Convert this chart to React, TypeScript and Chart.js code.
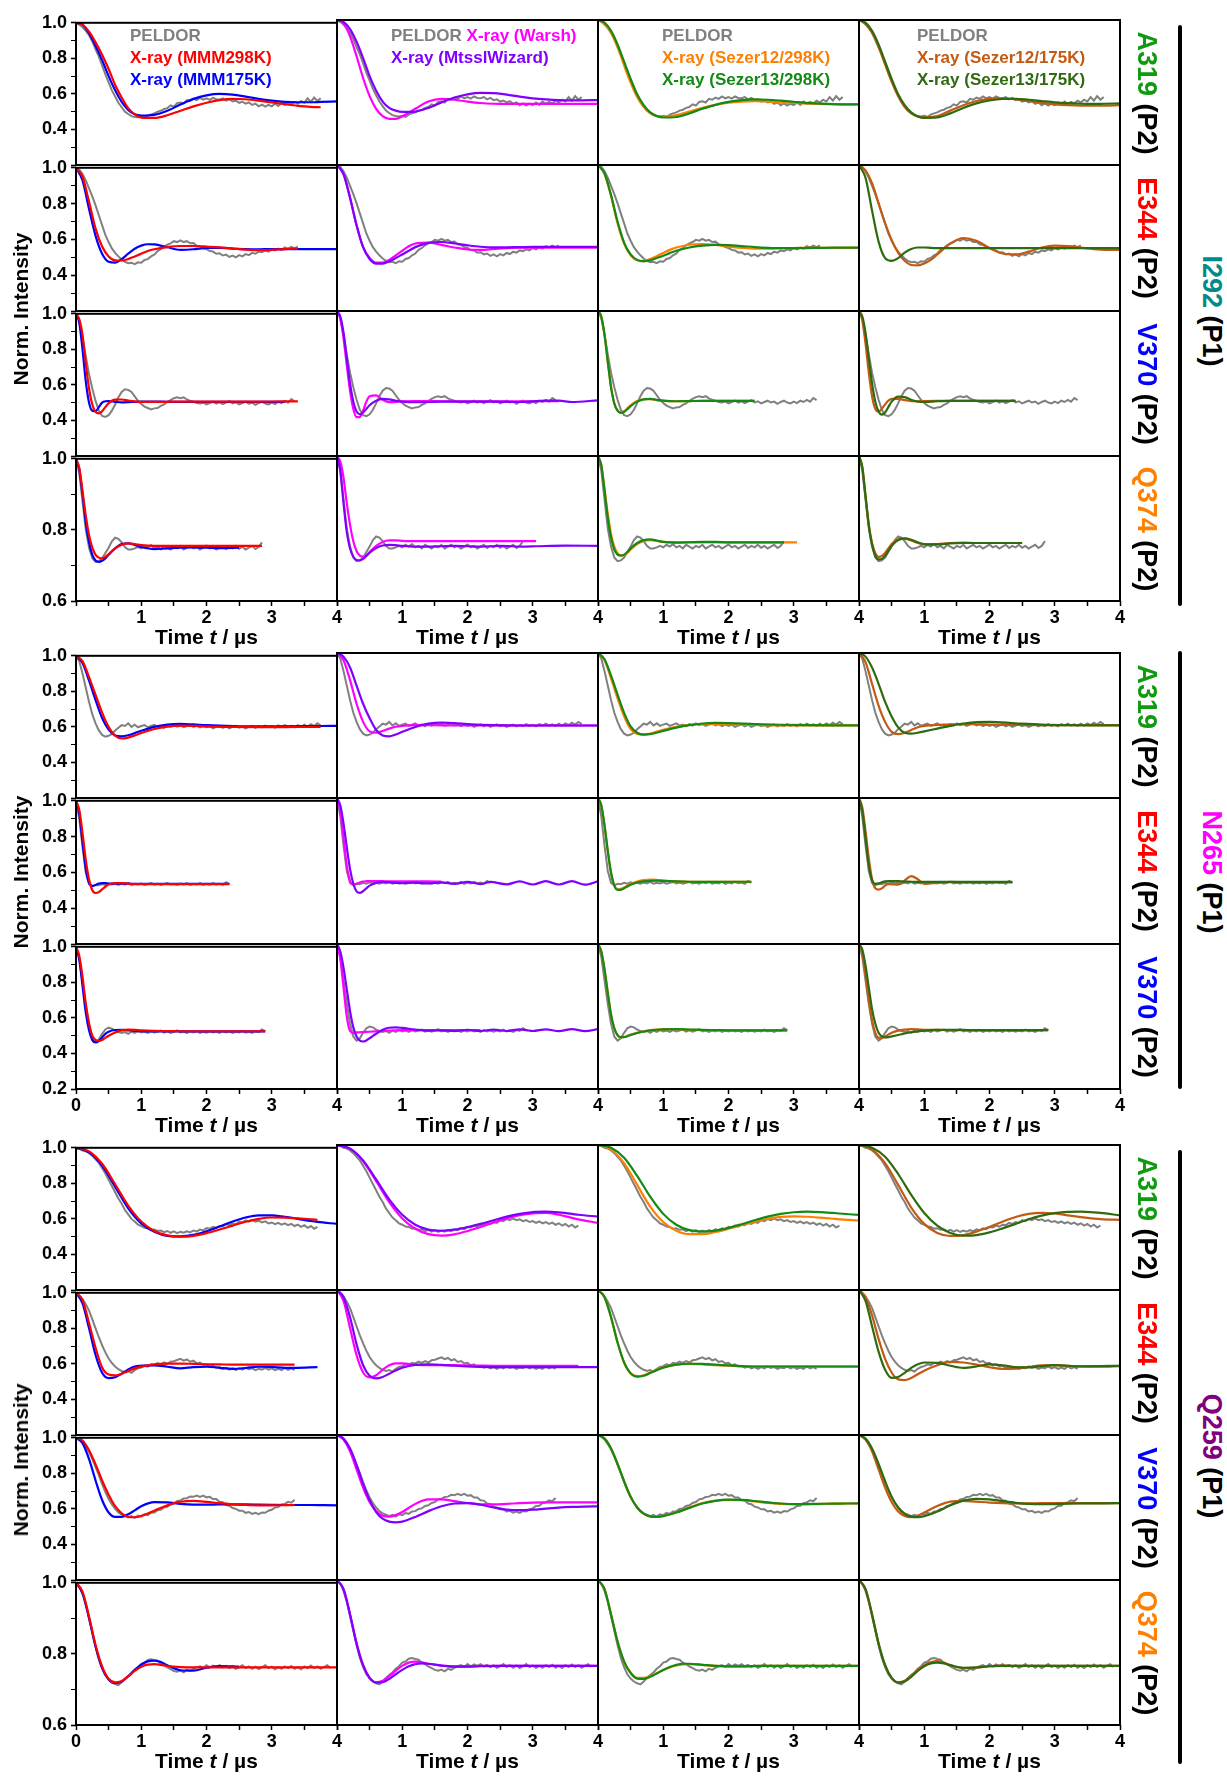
import React, { useEffect, useRef } from "react";
import { Chart, registerables } from "chart.js";

Chart.register(...registerables);

const FONT = "'Liberation Sans', Arial, Helvetica, sans-serif";
Chart.defaults.font.family = FONT;

// ---------------- axis / tick settings ----------------
const TIME_MAX = 4;
const TIME_STEP = 0.5;
const Y_STEP = 0.1;
const PELDOR_DT = 0.05; // sampling step of the PELDOR traces (µs)

// ---------------- colours ----------------
const C_PELDOR = "#808080";
const C_MMM298 = "#ff0000";
const C_MMM175 = "#0000ff";
const C_WARSH = "#ff00ff";
const C_WIZARD = "#8000ff";
const C_S12RT = "#ff8000";
const C_S13RT = "#138a13";
const C_S12LT = "#c45a12";
const C_S13LT = "#2e6b0e";

// ================= I292 (P1) / A319 (P2) =================
const t_I292_A319 = [0, 0.1, 0.2, 0.3, 0.4, 0.5, 0.6, 0.7, 0.8, 0.9, 1.0, 1.2, 1.4, 1.6, 1.8, 2.0, 2.2, 2.4, 2.6, 2.8, 3.0, 3.2, 3.4, 3.6, 3.75, 4.0];
const peldor_I292_A319 = [1.0, .99, .975, .955, .93, .895, .85, .81, .76, .71, .665, .62, .585, .55, .525, .50, .487, .475, .47, .468, .472, .465, .478, .485, .49, .50, .505, .515, .52, .535, .528, .548, .552, .545, .565, .56, .572, .565, .578, .568, .575, .566, .578, .57, .568, .575, .562, .57, .558, .562, .55, .556, .545, .552, .538, .545, .53, .54, .528, .538, .53, .545, .532, .55, .538, .548, .54, .555, .545, .56, .55, .575, .555, .58, .56, .575];
const mmm298_I292_A319 = [1, .99, .95, .89, .82, .74, .65, .58, .52, .485, .467, .465, .48, .505, .53, .55, .565, .572, .57, .562, .552, .542, .533, .527, .525];
const mmm175_I292_A319 = [1, .99, .94, .87, .79, .70, .62, .555, .51, .485, .478, .482, .505, .54, .572, .592, .6, .596, .585, .572, .562, .555, .553, .553, .555, .558];
const warsh_I292_A319 = [1, .98, .91, .8, .68, .58, .51, .47, .455, .455, .468, .51, .55, .565, .56, .55, .542, .538, .537, .537, .537, .537, .537, .537, .537, .537];
const wizard_I292_A319 = [1, .99, .95, .88, .79, .69, .61, .55, .515, .5, .493, .495, .515, .545, .572, .59, .598, .597, .588, .577, .568, .562, .558, .557, .557, .558];
const sz12rt_I292_A319 = [1, .98, .93, .85, .75, .655, .575, .52, .487, .47, .467, .475, .495, .515, .532, .544, .55, .552, .55, .546, .542, .539, .537, .536, .535, .535];
const sz13rt_I292_A319 = [1, .985, .94, .865, .77, .675, .59, .53, .49, .47, .462, .465, .485, .51, .532, .548, .558, .562, .56, .555, .549, .543, .539, .536, .535, .535];
const sz12lt_I292_A319 = [1, .98, .93, .85, .755, .66, .58, .52, .485, .468, .462, .47, .5, .53, .553, .565, .568, .563, .553, .543, .535, .53, .528, .528, .528, .53];
const sz13lt_I292_A319 = [1, .985, .94, .865, .77, .675, .59, .53, .49, .468, .46, .462, .485, .515, .54, .556, .564, .565, .56, .553, .546, .541, .538, .537, .538, .54];

// ================= I292 (P1) / E344 (P2) =================
const t_I292_E344 = [0, 0.1, 0.2, 0.3, 0.4, 0.5, 0.6, 0.7, 0.8, 0.9, 1.0, 1.1, 1.2, 1.4, 1.6, 1.8, 2.0, 2.2, 2.4, 2.6, 2.8, 3.0, 3.2, 3.4, 3.6, 3.8, 4.0];
const peldor_I292_E344 = [1.0, .99, .965, .93, .885, .84, .79, .735, .68, .625, .585, .55, .525, .505, .488, .475, .467, .47, .462, .472, .47, .485, .49, .505, .515, .535, .545, .56, .57, .578, .59, .585, .595, .585, .59, .578, .58, .565, .562, .55, .545, .535, .532, .52, .522, .51, .515, .502, .51, .5, .512, .505, .518, .512, .525, .52, .532, .528, .538, .532, .545, .538, .548, .542, .555, .548, .558, .55, .56];
const mmm298_I292_E344 = [1, .95, .81, .66, .56, .505, .483, .482, .49, .505, .52, .535, .545, .557, .563, .563, .56, .555, .549, .543, .54, .542, .546, .549];
const mmm175_I292_E344 = [1, .93, .77, .62, .52, .475, .47, .49, .52, .548, .565, .573, .572, .556, .542, .545, .552, .553, .549, .546, .545, .546, .546, .546, .546, .546, .546];
const warsh_I292_E344 = [1, .95, .82, .67, .55, .49, .465, .465, .48, .505, .53, .555, .57, .575, .562, .548, .537, .535, .54, .545, .547, .547, .547, .547, .547, .547, .547];
const wizard_I292_E344 = [1, .95, .82, .67, .55, .485, .46, .46, .472, .49, .51, .53, .55, .573, .578, .57, .56, .552, .549, .549, .55, .551, .551, .551, .551, .551, .551];
const sz12rt_I292_E344 = [1, .95, .83, .68, .57, .505, .478, .475, .485, .5, .518, .535, .548, .563, .567, .562, .553, .546, .542, .542, .544, .545, .546, .546, .546, .546, .546];
const sz13rt_I292_E344 = [1, .955, .835, .69, .575, .51, .48, .472, .478, .49, .503, .517, .53, .548, .558, .562, .561, .556, .55, .546, .544, .544, .545, .546, .547, .547, .547];
const sz12lt_I292_E344 = [1, .97, .9, .79, .68, .59, .52, .475, .452, .45, .46, .48, .51, .57, .6, .585, .545, .515, .51, .525, .548, .558, .555, .547, .539, .535, .535];
const sz13lt_I292_E344 = [1, .93, .75, .58, .49, .475, .49, .52, .54, .548, .548, .546, .545, .545, .545, .545, .545, .545, .545, .545, .545, .545, .545, .545, .545, .545, .545];

// ================= I292 (P1) / V370 (P2) =================
const t_I292_V370 = [0, .05, .1, .15, .2, .25, .3, .35, .4, .45, .5, .6, .7, .8, .9, 1.0, 1.2, 1.4, 1.6, 1.8, 2.0, 2.4, 2.8, 3.2, 3.4, 3.6, 4.0];
const peldor_I292_V370 = [1, .96, .87, .76, .66, .58, .51, .455, .425, .42, .43, .455, .49, .53, .56, .575, .572, .56, .535, .51, .492, .478, .47, .462, .468, .47, .482, .49, .505, .515, .525, .53, .525, .53, .518, .51, .505, .498, .495, .5, .49, .498, .505, .495, .502, .492, .5, .508, .496, .502, .49, .498, .505, .495, .5, .488, .498, .505, .495, .49, .5, .492, .505, .498, .51, .5, .52, .508];
const mmm298_I292_V370 = [1, .97, .88, .72, .58, .49, .448, .44, .452, .475, .497, .517, .518, .512, .507, .504, .504, .505, .506, .506, .506, .506, .506, .507, .507];
const mmm175_I292_V370 = [1, .95, .8, .62, .5, .455, .452, .475, .5, .508, .509, .505, .502, .503, .505, .506, .506, .505, .505, .505, .505, .505, .505, .505];
const warsh_I292_V370 = [1, .96, .85, .7, .56, .46, .415, .415, .45, .5, .53, .535, .51, .497, .498, .502, .503, .503, .502, .502, .502, .502, .502, .502, .502];
const wizard_I292_V370 = [1, .97, .88, .74, .6, .5, .445, .43, .44, .46, .48, .505, .515, .512, .505, .5, .497, .498, .5, .5, .5, .5, .498, .505, .505, .498, .507];
const sz12rt_I292_V370 = [1, .97, .87, .72, .58, .49, .45, .44, .447, .463, .48, .503, .513, .513, .508, .504, .502, .503, .504, .504, .504, .504];
const sz13rt_I292_V370 = [1, .97, .87, .72, .58, .49, .45, .438, .443, .458, .475, .5, .512, .515, .51, .505, .502, .503, .504, .504, .504, .504];
const sz12lt_I292_V370 = [1, .95, .82, .66, .53, .46, .445, .46, .485, .505, .515, .515, .508, .503, .502, .503, .504, .504, .504, .504, .504, .504];
const sz13lt_I292_V370 = [1, .97, .88, .74, .6, .5, .445, .428, .44, .47, .5, .528, .525, .51, .5, .498, .502, .504, .504, .504, .504, .504];

// ================= I292 (P1) / Q374 (P2) =================
const t_I292_Q374 = [0, .05, .1, .15, .2, .25, .3, .35, .4, .45, .5, .6, .7, .8, .9, 1.0, 1.2, 1.4, 1.6, 1.8, 2.0, 2.2, 2.5, 2.85, 3.05, 3.5, 4.0];
const peldor_I292_Q374 = [1, .96, .88, .8, .75, .72, .71, .712, .72, .735, .75, .768, .778, .775, .765, .752, .745, .745, .748, .752, .748, .755, .75, .757, .748, .752, .745, .755, .75, .745, .752, .748, .755, .745, .75, .755, .748, .752, .745, .75, .756, .748, .752, .745, .75, .755, .746, .752, .748, .755, .747, .752, .745, .75, .755, .746, .752, .765];
const mmm298_I292_Q374 = [1, .975, .91, .84, .785, .75, .73, .722, .72, .724, .732, .748, .758, .762, .76, .757, .755, .755, .755, .755, .755, .755, .755, .755];
const mmm175_I292_Q374 = [1, .97, .9, .82, .765, .73, .714, .71, .713, .72, .73, .748, .76, .762, .758, .752, .746, .748, .75, .751, .75, .749, .75];
const warsh_I292_Q374 = [1, .985, .94, .87, .81, .765, .738, .725, .722, .726, .735, .752, .763, .767, .767, .766, .765, .765, .765, .765, .765, .765, .765, .765, .765];
const wizard_I292_Q374 = [1, .96, .87, .79, .745, .722, .713, .712, .716, .724, .733, .746, .753, .755, .754, .752, .75, .75, .751, .752, .751, .75, .752, .75, .751, .753, .752];
const sz12rt_I292_Q374 = [1, .975, .91, .84, .785, .75, .732, .726, .727, .733, .742, .757, .766, .768, .766, .763, .762, .762, .762, .762, .762, .762, .762, .762, .762];
const sz13rt_I292_Q374 = [1, .975, .905, .83, .775, .742, .728, .725, .728, .735, .745, .76, .768, .77, .767, .763, .761, .762, .763, .763, .762, .762, .762, .762];
const sz12lt_I292_Q374 = [1, .97, .89, .81, .76, .732, .722, .724, .733, .745, .757, .77, .772, .767, .76, .756, .757, .76, .761, .76, .76, .76, .76];
const sz13lt_I292_Q374 = [1, .97, .89, .81, .755, .725, .715, .716, .725, .738, .752, .768, .773, .769, .762, .757, .756, .759, .76, .76, .76, .76, .76];

// ================= N265 (P1) / A319 (P2) =================
const t_N265_A319 = [0, .1, .2, .3, .4, .5, .6, .7, .8, .9, 1.0, 1.2, 1.4, 1.6, 1.8, 2.0, 2.4, 2.8, 3.2, 3.6, 3.75, 4.0];
const peldor_N265_A319 = [1, .97, .9, .82, .74, .67, .62, .58, .555, .545, .55, .56, .58, .595, .61, .605, .62, .6, .612, .598, .605, .61, .598, .605, .612, .6, .605, .595, .608, .6, .612, .602, .608, .598, .605, .612, .6, .607, .597, .605, .598, .604, .592, .6, .606, .595, .603, .592, .6, .606, .596, .602, .592, .6, .605, .595, .603, .597, .607, .598, .604, .595, .608, .6, .61, .6, .606, .598, .61, .6, .612, .602, .615, .605, .62, .608];
const mmm298_N265_A319 = [1, .97, .88, .78, .68, .6, .55, .535, .54, .552, .566, .588, .602, .607, .606, .603, .6, .599, .599, .6, .6];
const mmm175_N265_A319 = [1, .96, .86, .75, .65, .585, .552, .547, .553, .565, .578, .6, .613, .617, .614, .61, .605, .603, .603, .604, .605, .606];
const warsh_N265_A319 = [1, .96, .85, .72, .62, .568, .56, .57, .583, .593, .598, .602, .602, .601, .6, .6, .6, .6, .6, .6, .6, .6];
const wizard_N265_A319 = [1, .98, .92, .82, .72, .64, .575, .545, .54, .55, .565, .592, .61, .616, .613, .608, .602, .6, .6, .6, .6, .6];
const sz12rt_N265_A319 = [1, .96, .86, .75, .65, .58, .553, .55, .556, .566, .576, .592, .603, .608, .608, .606, .603, .601, .601, .601, .601, .601];
const sz13rt_N265_A319 = [1, .965, .875, .77, .67, .595, .56, .55, .552, .56, .57, .588, .602, .611, .614, .613, .608, .604, .602, .601, .601, .601];
const sz12lt_N265_A319 = [1, .95, .83, .71, .62, .565, .552, .56, .575, .59, .598, .603, .606, .608, .607, .605, .603, .602, .602, .602, .602, .602];
const sz13lt_N265_A319 = [1, .98, .92, .83, .73, .65, .59, .56, .555, .56, .568, .583, .598, .611, .619, .62, .612, .605, .602, .601, .601, .601];

// ================= N265 (P1) / E344 (P2) =================
const t_N265_E344 = [0, .05, .1, .15, .2, .25, .3, .35, .4, .45, .5, .6, .7, .8, .9, 1.0, 1.2, 1.4, 1.6, 1.8, 2.0, 2.2, 2.35, 2.6, 2.8, 3.0, 3.2, 3.4, 3.6, 3.8, 4.0];
const peldor_N265_E344 = [1, .9, .74, .6, .535, .522, .53, .528, .535, .53, .538, .532, .536, .53, .537, .532, .54, .53, .536, .532, .538, .53, .535, .54, .532, .537, .53, .536, .54, .532, .535, .53, .538, .533, .54, .53, .536, .532, .54, .53, .537, .532, .54, .533, .537, .53, .545, .535];
const mmm298_N265_E344 = [1, .95, .82, .67, .56, .5, .485, .49, .505, .52, .532, .54, .54, .537, .535, .535, .535, .535, .535, .535, .535, .535, .535];
const mmm175_N265_E344 = [1, .93, .77, .62, .54, .525, .53, .538, .54, .54, .538, .537, .537, .537, .536, .536, .536, .536, .536, .536, .536, .536, .536];
const warsh_N265_E344 = [1, .93, .78, .63, .545, .527, .53, .537, .542, .544, .545, .545, .544, .543, .543, .543, .543, .543, .542];
const wizard_N265_E344 = [1, .96, .86, .73, .61, .53, .488, .48, .49, .505, .52, .535, .54, .538, .535, .533, .536, .532, .538, .53, .54, .528, .54, .527, .543, .526, .544, .526, .544, .525, .543];
const sz12rt_N265_E344 = [1, .96, .85, .71, .59, .52, .5, .502, .51, .52, .53, .542, .55, .553, .552, .548, .543, .541, .541, .541, .541, .541, .541];
const sz13rt_N265_E344 = [1, .96, .85, .71, .59, .52, .497, .497, .505, .515, .525, .537, .543, .546, .547, .546, .543, .541, .54, .54, .541, .541, .541];
const sz12lt_N265_E344 = [1, .95, .82, .67, .555, .505, .498, .505, .52, .528, .527, .525, .548, .572, .555, .53, .535, .54, .538, .536, .537, .538, .538];
const sz13lt_N265_E344 = [1, .93, .78, .63, .55, .53, .532, .538, .543, .545, .545, .544, .542, .541, .54, .54, .54, .54, .54, .54, .54, .54, .54];

// ================= N265 (P1) / V370 (P2) =================
const t_N265_V370 = [0, .05, .1, .15, .2, .25, .3, .35, .4, .45, .5, .6, .7, .8, .9, 1.0, 1.2, 1.4, 1.6, 1.8, 2.0, 2.2, 2.4, 2.6, 2.8, 2.9, 3.0, 3.2, 3.4, 3.6, 3.8, 4.0];
const peldor_N265_V370 = [1, .93, .8, .67, .56, .49, .467, .48, .51, .535, .545, .54, .528, .52, .515, .52, .51, .522, .515, .525, .518, .522, .515, .525, .518, .522, .528, .517, .524, .516, .522, .53, .518, .522, .515, .524, .518, .526, .515, .522, .517, .525, .518, .522, .515, .525, .518, .523, .516, .522, .518, .527, .517, .522, .515, .525, .52, .535, .525];
const mmm298_N265_V370 = [1, .95, .83, .68, .57, .5, .475, .47, .475, .488, .5, .518, .53, .534, .533, .53, .527, .526, .525, .525, .525, .525, .525, .525, .525, .525];
const mmm175_N265_V370 = [1, .93, .78, .63, .53, .475, .462, .47, .49, .51, .522, .532, .533, .53, .527, .525, .524, .524, .524, .524, .524, .524, .524, .524, .524, .524];
const warsh_N265_V370 = [1, .92, .76, .6, .52, .51, .512, .513, .514, .515, .516, .518, .52, .522, .524, .525, .525, .525, .525, .525, .525, .525];
const wizard_N265_V370 = [1, .96, .87, .75, .63, .54, .49, .467, .462, .468, .48, .505, .527, .538, .54, .537, .528, .522, .524, .52, .527, .52, .528, .52, .529, .525, .52, .529, .519, .53, .519, .53];
const sz12rt_N265_V370 = [1, .96, .86, .73, .61, .535, .495, .485, .487, .493, .5, .51, .518, .524, .528, .53, .53, .527, .525, .524, .524, .524, .524, .524, .524, .524];
const sz13rt_N265_V370 = [1, .96, .86, .73, .61, .535, .497, .486, .486, .491, .498, .509, .517, .523, .527, .529, .53, .528, .526, .525, .524, .524, .524, .524, .524, .524];
const sz12lt_N265_V370 = [1, .95, .83, .69, .58, .51, .483, .482, .49, .5, .51, .522, .528, .53, .529, .527, .526, .525, .525, .525, .525, .525, .525, .525, .525, .525];
const sz13lt_N265_V370 = [1, .97, .88, .76, .64, .56, .51, .49, .485, .486, .49, .498, .506, .513, .518, .522, .526, .527, .526, .525, .525, .525, .525, .525, .525, .525];

// ================= Q259 (P1) / A319 (P2) =================
const t_Q259_A319 = [0, .2, .4, .6, .8, 1.0, 1.2, 1.4, 1.6, 1.8, 2.0, 2.2, 2.4, 2.6, 2.8, 3.0, 3.2, 3.4, 3.6, 3.7, 4.0];
const peldor_Q259_A319 = [1, .995, .985, .98, .97, .955, .935, .915, .885, .855, .82, .785, .75, .715, .685, .65, .625, .6, .585, .568, .56, .55, .548, .538, .54, .532, .535, .525, .532, .522, .53, .52, .528, .522, .53, .524, .535, .53, .54, .535, .548, .545, .555, .55, .56, .558, .57, .565, .575, .57, .585, .58, .592, .585, .595, .585, .59, .58, .586, .575, .58, .57, .578, .568, .575, .565, .572, .56, .568, .555, .565, .55, .56, .545, .555];
const mmm298_Q259_A319 = [1, .98, .91, .795, .675, .585, .532, .507, .5, .505, .52, .54, .562, .584, .6, .608, .607, .603, .598, .595];
const mmm175_Q259_A319 = [1, .975, .9, .78, .66, .575, .528, .505, .502, .51, .53, .557, .585, .608, .62, .62, .611, .6, .588, .583, .572];
const warsh_Q259_A319 = [1, .98, .91, .8, .685, .595, .538, .508, .5, .507, .525, .548, .572, .595, .613, .623, .625, .615, .598, .59, .57];
const wizard_Q259_A319 = [1, .98, .915, .81, .7, .615, .56, .533, .527, .533, .547, .565, .585, .605, .62, .63, .632, .628, .62, .615, .605];
const sz12rt_Q259_A319 = [1, .975, .9, .78, .66, .575, .527, .508, .508, .52, .538, .558, .577, .593, .603, .606, .604, .599, .593, .59, .583];
const sz13rt_Q259_A319 = [1, .985, .93, .83, .715, .62, .56, .53, .522, .528, .543, .563, .585, .605, .62, .629, .632, .63, .625, .622, .614];
const sz12lt_Q259_A319 = [1, .975, .9, .78, .655, .565, .515, .498, .503, .522, .548, .577, .603, .62, .626, .622, .612, .602, .594, .591, .587];
const sz13lt_Q259_A319 = [1, .985, .935, .84, .725, .625, .555, .515, .5, .503, .518, .54, .565, .59, .61, .624, .631, .632, .628, .625, .612];

// ================= Q259 (P1) / E344 (P2) =================
const t_Q259_E344 = [0, .1, .2, .3, .4, .5, .6, .7, .8, .9, 1.0, 1.2, 1.4, 1.6, 1.8, 2.0, 2.2, 2.4, 2.6, 2.8, 3.0, 3.2, 3.35, 3.7, 4.0];
const peldor_Q259_E344 = [1, .985, .965, .935, .9, .85, .8, .75, .705, .665, .63, .605, .585, .57, .56, .553, .558, .55, .565, .575, .58, .59, .585, .598, .595, .605, .598, .608, .6, .612, .615, .622, .628, .618, .625, .612, .618, .603, .608, .595, .598, .585, .59, .578, .582, .572, .578, .568, .575, .565, .575, .568, .578, .57, .575, .565, .572, .568, .578, .568, .575, .565, .572, .565, .578, .567, .575, .565];
const mmm298_Q259_E344 = [1, .96, .83, .69, .58, .54, .535, .545, .56, .575, .585, .597, .602, .602, .6, .598, .597, .596, .596, .596, .596, .596, .596];
const mmm175_Q259_E344 = [1, .94, .8, .65, .55, .52, .525, .545, .568, .585, .59, .592, .584, .575, .582, .585, .578, .572, .577, .584, .583, .578, .578, .582];
const warsh_Q259_E344 = [1, .94, .79, .64, .545, .518, .53, .56, .585, .595, .595, .588, .585, .585, .585, .584, .583, .582, .582, .582, .582, .582, .582, .582];
const wizard_Q259_E344 = [1, .96, .85, .7, .585, .527, .512, .52, .538, .556, .571, .587, .59, .587, .582, .578, .576, .575, .575, .575, .575, .575, .575, .575, .575];
const sz12rt_Q259_E344 = [1, .96, .85, .71, .6, .54, .525, .53, .545, .56, .573, .588, .592, .59, .586, .582, .579, .577, .577, .577, .577, .577, .577, .577, .577];
const sz13rt_Q259_E344 = [1, .96, .85, .71, .6, .54, .522, .527, .542, .558, .572, .588, .593, .592, .588, .584, .58, .578, .578, .578, .578, .578, .578, .578, .578];
const sz12lt_Q259_E344 = [1, .96, .86, .73, .62, .545, .507, .503, .515, .535, .555, .585, .603, .6, .588, .574, .565, .566, .575, .584, .585, .582, .579, .577, .58];
const sz13lt_Q259_E344 = [1, .94, .8, .66, .56, .515, .52, .543, .57, .59, .6, .598, .582, .57, .578, .59, .585, .574, .573, .58, .585, .582, .579, .58, .582];

// ================= Q259 (P1) / V370 (P2) =================
const t_Q259_V370 = [0, .1, .2, .3, .4, .5, .6, .7, .8, .9, 1.0, 1.2, 1.4, 1.6, 1.8, 2.0, 2.2, 2.4, 2.6, 2.8, 3.0, 3.2, 3.35, 3.6, 3.8, 4.0];
const peldor_Q259_V370 = [1, .99, .975, .95, .92, .88, .835, .79, .74, .695, .655, .625, .6, .58, .568, .56, .552, .56, .55, .562, .558, .57, .565, .578, .58, .592, .595, .608, .612, .625, .63, .645, .648, .658, .66, .67, .668, .675, .668, .675, .665, .668, .655, .655, .64, .638, .622, .618, .605, .6, .59, .59, .578, .582, .572, .578, .57, .58, .578, .59, .595, .608, .61, .625, .628, .64, .635, .652];
const mmm298_Q259_V370 = [1, .985, .93, .85, .76, .68, .615, .575, .556, .553, .56, .59, .62, .64, .645, .64, .632, .626, .622, .62, .62, .621, .622];
const mmm175_Q259_V370 = [1, .97, .88, .76, .65, .58, .555, .555, .57, .592, .615, .638, .637, .628, .624, .624, .625, .625, .625, .624, .623, .622, .622, .622, .621, .62];
const warsh_Q259_V370 = [1, .975, .91, .81, .71, .63, .58, .555, .55, .558, .575, .62, .645, .645, .635, .625, .618, .617, .62, .624, .627, .628, .628, .628, .628, .628];
const wizard_Q259_V370 = [1, .98, .925, .835, .73, .64, .575, .538, .522, .518, .522, .548, .58, .607, .622, .624, .615, .6, .588, .585, .588, .594, .598, .603, .605, .606];
const sz12rt_Q259_V370 = [1, .98, .925, .84, .745, .66, .6, .565, .55, .548, .553, .574, .6, .624, .638, .642, .64, .633, .625, .62, .618, .618, .619, .621, .622, .622];
const sz13rt_Q259_V370 = [1, .98, .925, .84, .745, .66, .6, .566, .551, .548, .552, .572, .598, .622, .637, .643, .642, .636, .628, .622, .619, .619, .62, .621, .622, .623];
const sz12lt_Q259_V370 = [1, .975, .91, .81, .71, .63, .578, .553, .547, .555, .573, .608, .632, .637, .632, .627, .624, .623, .623, .624, .624, .624, .624, .624, .624, .624];
const sz13lt_Q259_V370 = [1, .98, .925, .84, .745, .66, .6, .565, .55, .547, .552, .578, .612, .638, .648, .645, .635, .626, .62, .618, .619, .621, .622, .623, .623, .624];

// ================= Q259 (P1) / Q374 (P2) =================
const t_Q259_Q374 = [0, .1, .2, .3, .4, .5, .6, .7, .8, .9, 1.0, 1.1, 1.2, 1.3, 1.4, 1.6, 1.8, 2.0, 2.2, 2.5, 2.8, 3.2, 3.6, 4.0];
const peldor_Q259_Q374 = [1, .99, .97, .94, .9, .86, .82, .785, .76, .74, .728, .72, .715, .712, .72, .73, .738, .745, .755, .762, .772, .775, .783, .785, .782, .78, .772, .768, .762, .757, .752, .75, .753, .748, .755, .752, .758, .762, .765, .76, .768, .762, .767, .763, .768, .762, .766, .76, .765, .758, .762, .768, .76, .765, .758, .764, .757, .762, .768, .76, .764, .757, .763, .758, .765, .76, .766, .758, .763, .757, .765, .76, .767, .76, .765, .758, .763, .768, .76];
const mmm298_Q259_Q374 = [1, .975, .905, .825, .765, .73, .72, .724, .737, .752, .764, .77, .771, .769, .766, .763, .762, .762, .762, .762, .762, .762, .762, .762];
const mmm175_Q259_Q374 = [1, .97, .9, .82, .76, .728, .718, .722, .737, .755, .77, .779, .781, .777, .768, .754, .753, .761, .766, .764];
const warsh_Q259_Q374 = [1, .975, .905, .825, .765, .73, .718, .722, .735, .75, .763, .772, .775, .773, .769, .764, .762, .762, .763, .763, .763, .763, .763, .763];
const wizard_Q259_Q374 = [1, .975, .905, .825, .765, .73, .717, .718, .727, .74, .752, .762, .768, .77, .769, .764, .761, .761, .762, .763, .763, .763, .763, .763];
const sz12rt_Q259_Q374 = [1, .975, .905, .83, .775, .745, .73, .73, .735, .743, .752, .759, .764, .767, .768, .766, .763, .762, .762, .763, .763, .763, .763, .763];
const sz13rt_Q259_Q374 = [1, .975, .905, .83, .775, .743, .728, .727, .733, .742, .752, .76, .766, .769, .769, .766, .763, .762, .762, .763, .763, .763, .763, .763];
const sz12lt_Q259_Q374 = [1, .975, .905, .825, .765, .73, .718, .722, .736, .752, .765, .773, .776, .772, .765, .757, .758, .762, .764, .763, .763, .763, .763, .763];
const sz13lt_Q259_Q374 = [1, .975, .905, .825, .765, .73, .717, .72, .733, .749, .762, .77, .772, .77, .765, .758, .759, .762, .763, .763, .763, .763, .763, .763];

// ---------------- row / block definitions ----------------
const C_A319 = "#109a10";
const C_E344 = "#ff0000";
const C_V370 = "#0000ff";
const C_Q374 = "#ff8000";

type Row = { name: string; color: string; ymin: number; grid: number[]; peldor: number[]; models: number[][] };

const BLOCKS: { site: string; color: string; rows: Row[] }[] = [
  {
    site: "I292", color: "#008b8b", rows: [
      { name: "A319", color: C_A319, ymin: 0.2, grid: t_I292_A319, peldor: peldor_I292_A319, models: [mmm298_I292_A319, mmm175_I292_A319, warsh_I292_A319, wizard_I292_A319, sz12rt_I292_A319, sz13rt_I292_A319, sz12lt_I292_A319, sz13lt_I292_A319] },
      { name: "E344", color: C_E344, ymin: 0.2, grid: t_I292_E344, peldor: peldor_I292_E344, models: [mmm298_I292_E344, mmm175_I292_E344, warsh_I292_E344, wizard_I292_E344, sz12rt_I292_E344, sz13rt_I292_E344, sz12lt_I292_E344, sz13lt_I292_E344] },
      { name: "V370", color: C_V370, ymin: 0.2, grid: t_I292_V370, peldor: peldor_I292_V370, models: [mmm298_I292_V370, mmm175_I292_V370, warsh_I292_V370, wizard_I292_V370, sz12rt_I292_V370, sz13rt_I292_V370, sz12lt_I292_V370, sz13lt_I292_V370] },
      { name: "Q374", color: C_Q374, ymin: 0.6, grid: t_I292_Q374, peldor: peldor_I292_Q374, models: [mmm298_I292_Q374, mmm175_I292_Q374, warsh_I292_Q374, wizard_I292_Q374, sz12rt_I292_Q374, sz13rt_I292_Q374, sz12lt_I292_Q374, sz13lt_I292_Q374] },
    ],
  },
  {
    site: "N265", color: "#ff00ff", rows: [
      { name: "A319", color: C_A319, ymin: 0.2, grid: t_N265_A319, peldor: peldor_N265_A319, models: [mmm298_N265_A319, mmm175_N265_A319, warsh_N265_A319, wizard_N265_A319, sz12rt_N265_A319, sz13rt_N265_A319, sz12lt_N265_A319, sz13lt_N265_A319] },
      { name: "E344", color: C_E344, ymin: 0.2, grid: t_N265_E344, peldor: peldor_N265_E344, models: [mmm298_N265_E344, mmm175_N265_E344, warsh_N265_E344, wizard_N265_E344, sz12rt_N265_E344, sz13rt_N265_E344, sz12lt_N265_E344, sz13lt_N265_E344] },
      { name: "V370", color: C_V370, ymin: 0.2, grid: t_N265_V370, peldor: peldor_N265_V370, models: [mmm298_N265_V370, mmm175_N265_V370, warsh_N265_V370, wizard_N265_V370, sz12rt_N265_V370, sz13rt_N265_V370, sz12lt_N265_V370, sz13lt_N265_V370] },
    ],
  },
  {
    site: "Q259", color: "#800080", rows: [
      { name: "A319", color: C_A319, ymin: 0.2, grid: t_Q259_A319, peldor: peldor_Q259_A319, models: [mmm298_Q259_A319, mmm175_Q259_A319, warsh_Q259_A319, wizard_Q259_A319, sz12rt_Q259_A319, sz13rt_Q259_A319, sz12lt_Q259_A319, sz13lt_Q259_A319] },
      { name: "E344", color: C_E344, ymin: 0.2, grid: t_Q259_E344, peldor: peldor_Q259_E344, models: [mmm298_Q259_E344, mmm175_Q259_E344, warsh_Q259_E344, wizard_Q259_E344, sz12rt_Q259_E344, sz13rt_Q259_E344, sz12lt_Q259_E344, sz13lt_Q259_E344] },
      { name: "V370", color: C_V370, ymin: 0.2, grid: t_Q259_V370, peldor: peldor_Q259_V370, models: [mmm298_Q259_V370, mmm175_Q259_V370, warsh_Q259_V370, wizard_Q259_V370, sz12rt_Q259_V370, sz13rt_Q259_V370, sz12lt_Q259_V370, sz13lt_Q259_V370] },
      { name: "Q374", color: C_Q374, ymin: 0.6, grid: t_Q259_Q374, peldor: peldor_Q259_Q374, models: [mmm298_Q259_Q374, mmm175_Q259_Q374, warsh_Q259_Q374, wizard_Q259_Q374, sz12rt_Q259_Q374, sz13rt_Q259_Q374, sz12lt_Q259_Q374, sz13lt_Q259_Q374] },
    ],
  },
];

// model series per column; first entry drawn on top
const COLUMNS = [
  [{ idx: 0, color: C_MMM298 }, { idx: 1, color: C_MMM175 }],
  [{ idx: 3, color: C_WIZARD }, { idx: 2, color: C_WARSH }],
  [{ idx: 5, color: C_S13RT }, { idx: 4, color: C_S12RT }],
  [{ idx: 7, color: C_S13LT }, { idx: 6, color: C_S12LT }],
];

const LEGENDS = [
  [[["PELDOR", C_PELDOR]], [["X-ray (MMM298K)", C_MMM298]], [["X-ray (MMM175K)", C_MMM175]]],
  [[["PELDOR ", C_PELDOR], ["X-ray (Warsh)", C_WARSH]], [["X-ray (MtsslWizard)", C_WIZARD]]],
  [[["PELDOR", C_PELDOR]], [["X-ray (Sezer12/298K)", C_S12RT]], [["X-ray (Sezer13/298K)", C_S13RT]]],
  [[["PELDOR", C_PELDOR]], [["X-ray (Sezer12/175K)", C_S12LT]], [["X-ray (Sezer13/175K)", C_S13LT]]],
];

// ---------------- layout ----------------
const COL_X = [76, 337, 598, 859];
const COL_W = 261;
const LEGEND_X = [130, 391, 662, 917];
const LAYOUT = [
  { top: 20, rowH: 145.25, zero: false, titleY: 309, siteY: 311, barTop: 25, barBot: 606 },
  { top: 653, rowH: 145.4, zero: true, titleY: 872, siteY: 872, barTop: 651, barBot: 1089 },
  { top: 1145, rowH: 145.1, zero: true, titleY: 1460, siteY: 1456, barTop: 1150, barBot: 1764 },
];
const LY = 70, PT = 12, PR = 14, BX = 32;

const framePlugin = {
  id: "frame",
  afterDatasetsDraw(chart: any) {
    const { ctx, chartArea: a } = chart;
    ctx.save();
    ctx.strokeStyle = "#000";
    ctx.lineWidth = 2;
    ctx.strokeRect(a.left, a.top, a.right - a.left, a.bottom - a.top);
    ctx.restore();
  },
};

const toXY = (grid: number[], vals: number[]) => vals.map((v, i) => ({ x: grid[i], y: v }));
const peldorXY = (vals: number[]) => vals.map((v, i) => ({ x: Math.round(i * PELDOR_DT * 100) / 100, y: v }));

function Panel(props: any) {
  const { row, col, left, top, h, firstCol, lastRow, showZero } = props;
  const ref = useRef<HTMLCanvasElement | null>(null);
  const W = LY + COL_W + PR;
  const H = PT + h + BX;
  useEffect(() => {
    const canvas = ref.current;
    if (!canvas) return;
    const datasets: any[] = COLUMNS[col].map((m) => ({
      data: toXY(row.grid, row.models[m.idx]),
      borderColor: m.color,
      borderWidth: 2.2,
      pointRadius: 0,
      fill: false,
      cubicInterpolationMode: "monotone",
    }));
    datasets.push({
      data: peldorXY(row.peldor),
      borderColor: C_PELDOR,
      borderWidth: 2,
      pointRadius: 0,
      fill: false,
      tension: 0,
    });
    const tickFont = { size: 18, weight: "bold" as const, family: FONT };
    const chart = new Chart(canvas, {
      type: "line",
      data: { datasets },
      options: {
        animation: false,
        responsive: false,
        maintainAspectRatio: false,
        devicePixelRatio: 1,
        events: [],
        layout: { padding: { left: 0, top: PT, right: PR, bottom: 0 } },
        plugins: { legend: { display: false }, tooltip: { enabled: false } },
        scales: {
          x: {
            type: "linear",
            min: 0,
            max: TIME_MAX,
            afterFit: (s: any) => { s.height = BX; },
            border: { display: false },
            grid: { drawOnChartArea: false, drawTicks: lastRow, tickLength: 5, tickColor: "#000", tickWidth: 1.5 },
            ticks: {
              display: lastRow,
              stepSize: TIME_STEP,
              autoSkip: false,
              maxRotation: 0,
              minRotation: 0,
              padding: 1,
              color: "#000",
              font: tickFont,
              callback: (v: any) => {
                const n = Number(v);
                if (Math.abs(n - Math.round(n)) > 1e-6) return "";
                if (Math.round(n) === 0 && !showZero) return "";
                return String(Math.round(n));
              },
            },
          },
          y: {
            type: "linear",
            min: row.ymin,
            max: 1,
            afterFit: (s: any) => { s.width = LY; },
            border: { display: false },
            grid: {
              drawOnChartArea: false,
              drawTicks: firstCol,
              tickLength: 5,
              tickColor: "#000",
              tickWidth: (c: any) => (Math.round(c.tick.value * 10) % 2 === 0 ? 1.6 : 1),
            },
            ticks: {
              display: firstCol,
              stepSize: Y_STEP,
              autoSkip: false,
              padding: 4,
              color: "#000",
              font: tickFont,
              callback: (v: any) => {
                const r = Math.round(Number(v) * 10);
                if (r % 2 !== 0) return "";
                if (!lastRow && Math.abs(Number(v) - row.ymin) < 1e-6) return "";
                return (r / 10).toFixed(1);
              },
            },
          },
        },
      } as any,
      plugins: [framePlugin],
    });
    return () => chart.destroy();
  }, []);
  return (
    <canvas
      ref={ref}
      width={W}
      height={H}
      style={{ position: "absolute", left: left - LY, top: top - PT, width: W, height: H }}
    />
  );
}

export default function App() {
  const panels: any[] = [];
  const overlays: any[] = [];
  BLOCKS.forEach((block, b) => {
    const L = LAYOUT[b];
    const nRows = block.rows.length;
    const rowTop = (i: number) => Math.round(L.top + i * L.rowH);
    const bottom = rowTop(nRows);
    block.rows.forEach((row, r) => {
      const top = rowTop(r);
      const h = rowTop(r + 1) - top;
      for (let c = 0; c < 4; c++) {
        panels.push(
          <Panel
            key={`p-${b}-${r}-${c}`}
            row={row}
            col={c}
            left={COL_X[c]}
            top={top}
            h={h}
            firstCol={c === 0}
            lastRow={r === nRows - 1}
            showZero={c === 0 && L.zero}
          />
        );
      }
      overlays.push(
        <div
          key={`rl-${b}-${r}`}
          style={{
            position: "absolute", left: 1147, top: top + h / 2, transform: "translate(-50%, -50%)",
            writingMode: "vertical-rl", whiteSpace: "nowrap", fontWeight: "bold", fontSize: 27, lineHeight: "30px", color: "#000",
          }}
        >
          <span style={{ color: row.color }}>{row.name}</span> (P2)
        </div>
      );
    });
    // x-axis titles
    for (let c = 0; c < 4; c++) {
      overlays.push(
        <div
          key={`xt-${b}-${c}`}
          style={{
            position: "absolute", left: COL_X[c] + COL_W / 2, top: bottom + 36, transform: "translate(-50%, -50%)",
            whiteSpace: "nowrap", fontWeight: "bold", fontSize: 21, lineHeight: "24px", color: "#000",
          }}
        >
          Time <i>t</i> / µs
        </div>
      );
    }
    // y-axis title
    overlays.push(
      <div
        key={`yt-${b}`}
        style={{
          position: "absolute", left: 21, top: L.titleY, transform: "translate(-50%, -50%) rotate(180deg)",
          writingMode: "vertical-rl", whiteSpace: "nowrap", fontWeight: "bold", fontSize: 21, lineHeight: "24px", color: "#000",
        }}
      >
        Norm. Intensity
      </div>
    );
    // bracket bar + site label
    overlays.push(
      <div key={`bar-${b}`} style={{ position: "absolute", left: 1178, top: L.barTop, width: 4, height: L.barBot - L.barTop, background: "#000", borderRadius: 2 }} />
    );
    overlays.push(
      <div
        key={`site-${b}`}
        style={{
          position: "absolute", left: 1212, top: L.siteY, transform: "translate(-50%, -50%)",
          writingMode: "vertical-rl", whiteSpace: "nowrap", fontWeight: "bold", fontSize: 27, lineHeight: "30px", color: "#000",
        }}
      >
        <span style={{ color: block.color }}>{block.site}</span> (P1)
      </div>
    );
  });
  // legends in the first row
  LEGENDS.forEach((lines, c) => {
    lines.forEach((parts: any, li: number) => {
      overlays.push(
        <div
          key={`lg-${c}-${li}`}
          style={{
            position: "absolute", left: LEGEND_X[c], top: 36 + li * 22 - 10, whiteSpace: "pre",
            fontWeight: "bold", fontSize: 17, lineHeight: "20px",
          }}
        >
          {parts.map((p: any, k: number) => (
            <span key={k} style={{ color: p[1] }}>{p[0]}</span>
          ))}
        </div>
      );
    });
  });
  return (
    <div style={{ position: "absolute", left: 0, top: 0, width: 1227, height: 1777, background: "#fff", fontFamily: FONT, overflow: "hidden" }}>
      {panels}
      {overlays}
    </div>
  );
}
